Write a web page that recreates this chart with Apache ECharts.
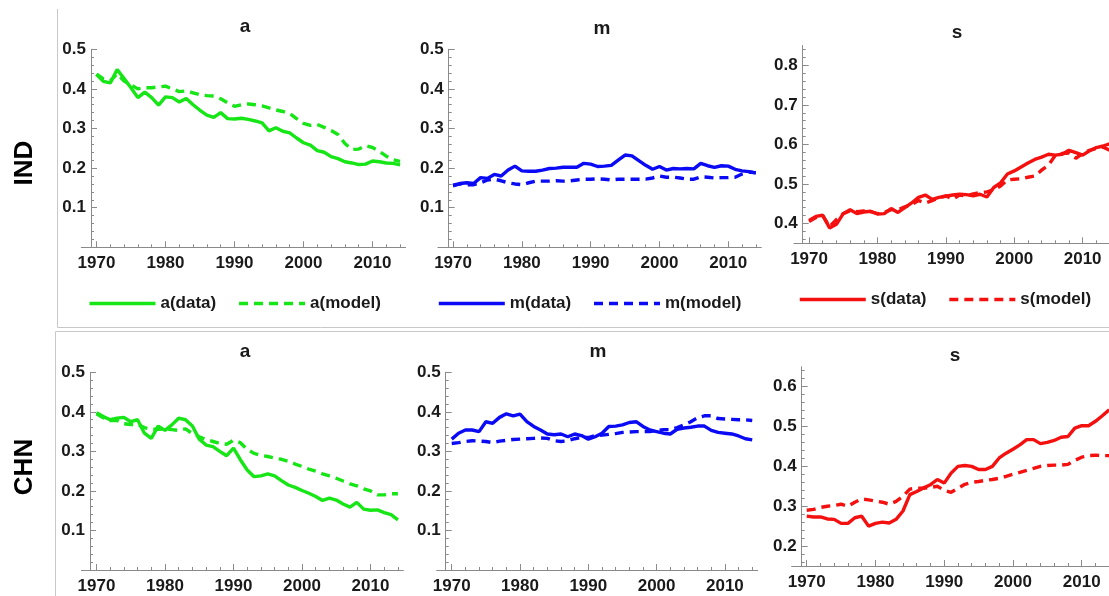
<!DOCTYPE html>
<html>
<head>
<meta charset="utf-8">
<script src="https://cdn.jsdelivr.net/npm/echarts@6/dist/echarts.min.js"></script>
<style>
html,body{margin:0;padding:0;background:#fff;}
#chart{width:1109px;height:596px;}
</style>
</head>
<body>
<div id="chart"></div>
<script>
// ---------------- data ----------------
const years = [1970,1971,1972,1973,1974,1975,1976,1977,1978,1979,
               1980,1981,1982,1983,1984,1985,1986,1987,1988,1989,
               1990,1991,1992,1993,1994,1995,1996,1997,1998,1999,
               2000,2001,2002,2003,2004,2005,2006,2007,2008,2009,
               2010,2011,2012,2013,2014];

const indAData  = [0.437,0.419,0.415,0.449,0.426,0.403,0.378,0.392,0.378,0.359,
                   0.380,0.378,0.367,0.376,0.360,0.346,0.334,0.328,0.340,0.325,
                   0.324,0.326,0.323,0.319,0.314,0.294,0.302,0.293,0.289,0.276,
                   0.264,0.258,0.244,0.240,0.229,0.224,0.216,0.213,0.209,0.210,
                   0.218,0.216,0.213,0.212,0.208];
const indAModel = [0.437,0.425,0.420,0.438,0.420,0.410,0.400,0.403,0.403,0.405,
                   0.407,0.400,0.393,0.395,0.390,0.385,0.383,0.382,0.375,0.365,
                   0.356,0.360,0.362,0.360,0.357,0.352,0.347,0.343,0.338,0.325,
                   0.313,0.308,0.310,0.303,0.295,0.285,0.262,0.247,0.248,0.257,
                   0.252,0.242,0.230,0.221,0.217];
const indMData  = [0.157,0.161,0.163,0.161,0.176,0.174,0.184,0.180,0.195,0.205,
                   0.193,0.192,0.192,0.195,0.199,0.200,0.202,0.202,0.202,0.212,
                   0.210,0.204,0.205,0.207,0.220,0.233,0.231,0.219,0.207,0.197,
                   0.204,0.195,0.199,0.198,0.199,0.198,0.212,0.206,0.202,0.206,
                   0.205,0.197,0.193,0.191,0.188];
const indMModel = [0.155,0.160,0.158,0.158,0.163,0.170,0.172,0.168,0.163,0.160,
                   0.158,0.163,0.167,0.167,0.167,0.168,0.167,0.168,0.170,0.172,
                   0.172,0.173,0.172,0.170,0.172,0.172,0.172,0.172,0.172,0.175,
                   0.180,0.177,0.177,0.175,0.172,0.172,0.178,0.177,0.175,0.176,
                   0.176,0.177,0.185,0.190,0.188];
const indSData  = [0.408,0.418,0.421,0.389,0.398,0.425,0.435,0.425,0.429,0.431,
                   0.424,0.425,0.438,0.428,0.440,0.452,0.466,0.472,0.461,0.466,
                   0.469,0.472,0.474,0.473,0.470,0.474,0.467,0.491,0.503,0.525,
                   0.533,0.543,0.553,0.562,0.568,0.575,0.573,0.575,0.585,0.579,
                   0.573,0.584,0.592,0.596,0.602];
const indSModel = [0.405,0.415,0.420,0.392,0.410,0.425,0.432,0.430,0.432,0.430,
                   0.425,0.428,0.435,0.435,0.442,0.448,0.458,0.452,0.458,0.465,
                   0.470,0.462,0.472,0.470,0.475,0.478,0.480,0.485,0.495,0.510,
                   0.512,0.513,0.517,0.520,0.535,0.548,0.572,0.577,0.578,0.565,
                   0.577,0.585,0.590,0.593,0.585];
const chnAData  = [0.398,0.388,0.380,0.384,0.386,0.375,0.380,0.346,0.333,0.364,
                   0.353,0.367,0.384,0.380,0.364,0.331,0.316,0.312,0.300,0.289,
                   0.308,0.279,0.253,0.236,0.238,0.243,0.238,0.226,0.215,0.209,
                   0.201,0.194,0.186,0.176,0.182,0.177,0.167,0.159,0.171,0.154,
                   0.151,0.152,0.145,0.140,0.127];
const chnAModel = [0.395,0.385,0.378,0.378,0.370,0.368,0.368,0.360,0.356,0.356,
                   0.357,0.355,0.353,0.357,0.345,0.337,0.330,0.325,0.320,0.318,
                   0.328,0.322,0.305,0.295,0.290,0.287,0.283,0.280,0.275,0.268,
                   0.262,0.255,0.250,0.243,0.238,0.232,0.225,0.218,0.213,0.205,
                   0.200,0.190,0.190,0.193,0.193];
const chnMData  = [0.331,0.346,0.354,0.354,0.350,0.375,0.371,0.386,0.395,0.390,
                   0.394,0.375,0.363,0.354,0.344,0.342,0.344,0.337,0.344,0.340,
                   0.331,0.337,0.346,0.363,0.364,0.367,0.373,0.375,0.363,0.354,
                   0.350,0.346,0.344,0.356,0.359,0.361,0.364,0.364,0.353,0.348,
                   0.346,0.344,0.339,0.332,0.329];
const chnMModel = [0.320,0.322,0.325,0.327,0.326,0.325,0.322,0.326,0.328,0.330,
                   0.331,0.332,0.333,0.334,0.333,0.327,0.325,0.327,0.332,0.335,
                   0.335,0.340,0.341,0.343,0.345,0.348,0.349,0.350,0.350,0.350,
                   0.353,0.355,0.355,0.360,0.367,0.375,0.385,0.390,0.390,0.383,
                   0.382,0.381,0.380,0.380,0.378];
const chnSData  = [0.275,0.273,0.273,0.268,0.267,0.257,0.257,0.271,0.275,0.250,
                   0.257,0.260,0.258,0.267,0.288,0.329,0.337,0.346,0.354,0.367,
                   0.358,0.383,0.400,0.402,0.400,0.392,0.392,0.400,0.421,0.433,
                   0.443,0.454,0.467,0.467,0.457,0.460,0.465,0.473,0.475,0.496,
                   0.502,0.502,0.513,0.527,0.542];
const chnSModel = [0.290,0.292,0.297,0.300,0.302,0.305,0.300,0.310,0.318,0.316,
                   0.313,0.310,0.305,0.312,0.325,0.343,0.345,0.345,0.347,0.350,
                   0.340,0.335,0.345,0.355,0.360,0.362,0.365,0.367,0.370,0.375,
                   0.380,0.385,0.390,0.395,0.400,0.402,0.403,0.403,0.405,0.415,
                   0.423,0.427,0.428,0.427,0.427];

// tick labels
const xTickLabels = [1970,1980,1990,2000,2010];
const yTicksLow   = [0.1,0.2,0.3,0.4,0.5];
const yTicksIndS  = [0.4,0.5,0.6,0.7,0.8];
const yTicksChnS  = [0.2,0.3,0.4,0.5,0.6];
const rowLabels   = ['IND','CHN'];
const panelTitles = ['a','m','s'];

// ---------------- layout / style ----------------
const GREEN = '#16e516', BLUE = '#0a0af5', RED = '#f51010';
const AXIS = '#8a8a8a';
const FONT = '"Liberation Sans", Arial, sans-serif';
const X_MIN = 1967.8, X_MAX = 2014.8;

function steps(a, b, st) { const out = []; for (let v = a; v <= b + 1e-9; v += st) out.push(+v.toFixed(4)); return out; }
const xMinor = steps(1972, 2014, 2);

const panels = [
  {grid:{left:81.3, top:49.3, width:324.3, height:198}, yOff:-9.7, ymin:0, ymax:0.5, yTicks:yTicksLow, data:indAData, model:indAModel, color:GREEN, key:'a'},
  {grid:{left:437.9, top:49.3, width:323.4, height:198}, yOff:-10.8, ymin:0, ymax:0.5, yTicks:yTicksLow, data:indMData, model:indMModel, color:BLUE, key:'m'},
  {grid:{left:794, top:45.5, width:321.5, height:197.8}, yOff:-8.7, ymin:0.35, ymax:0.85, yTicks:yTicksIndS, data:indSData, model:indSModel, color:RED, key:'s'},
  {grid:{left:81.4, top:372.3, width:322, height:197.7}, yOff:-8.6, ymin:0, ymax:0.5, yTicks:yTicksLow, data:chnAData, model:chnAModel, color:GREEN, key:'a'},
  {grid:{left:436.7, top:372.3, width:321, height:197.7}, yOff:-9, ymin:0, ymax:0.5, yTicks:yTicksLow, data:chnMData, model:chnMModel, color:BLUE, key:'m'},
  {grid:{left:791.6, top:366.7, width:323.1, height:199.3}, yOff:-10.1, ymin:0.15, ymax:0.65, yTicks:yTicksChnS, data:chnSData, model:chnSModel, color:RED, key:'s'}
];

const grids = [], xAxes = [], yAxes = [], series = [];
const labelStyle = {color:'#1a1a1a', fontWeight:'bold', fontSize:17, fontFamily:FONT};

panels.forEach((p, i) => {
  grids.push(Object.assign({outerBoundsMode:'none', containLabel:false}, p.grid));
  xAxes.push({
    type:'value', gridIndex:i, min:X_MIN, max:X_MAX, position:'bottom',
    axisLine:{show:true, onZero:false, lineStyle:{color:AXIS, width:1}},
    axisTick:{show:true, inside:true, length:6, customValues:xTickLabels, lineStyle:{color:AXIS}},
    axisLabel:{show:true, customValues:xTickLabels, margin:8, formatter:v => String(v), ...labelStyle},
    splitLine:{show:false}
  });
  xAxes.push({
    type:'value', gridIndex:i, min:X_MIN, max:X_MAX, position:'bottom',
    axisLine:{show:false, onZero:false},
    axisTick:{show:true, inside:true, length:3, customValues:xMinor, lineStyle:{color:AXIS}},
    axisLabel:{show:false}, splitLine:{show:false}
  });
  const yMinor = steps(p.ymin + 0.02 - ((p.ymin * 100) % 2) / 100, p.ymax, 0.02);
  yAxes.push({
    type:'value', gridIndex:i, min:p.ymin, max:p.ymax, position:'left', offset:p.yOff,
    axisLine:{show:true, onZero:false, lineStyle:{color:AXIS, width:1}},
    axisTick:{show:true, inside:true, length:6, customValues:p.yTicks, lineStyle:{color:AXIS}},
    axisLabel:{show:true, customValues:p.yTicks, margin:5, formatter:v => v.toFixed(1), ...labelStyle},
    splitLine:{show:false}
  });
  yAxes.push({
    type:'value', gridIndex:i, min:p.ymin, max:p.ymax, position:'left', offset:p.yOff,
    axisLine:{show:false, onZero:false},
    axisTick:{show:true, inside:true, length:3, customValues:yMinor, lineStyle:{color:AXIS}},
    axisLabel:{show:false}, splitLine:{show:false}
  });
  series.push({
    type:'line', name:p.key + '(data)', xAxisIndex:2*i, yAxisIndex:2*i,
    data:years.map((y, k) => [y, p.data[k]]), showSymbol:false, symbol:'none',
    lineStyle:{color:p.color, width:3.4}, itemStyle:{color:p.color}, silent:true, animation:false, z:2
  });
  series.push({
    type:'line', name:p.key + '(model)', xAxisIndex:2*i, yAxisIndex:2*i,
    data:years.map((y, k) => [y, p.model[k]]), showSymbol:false, symbol:'none',
    lineStyle:{color:p.color, width:3.4, type:[9,6]}, itemStyle:{color:p.color}, silent:true, animation:false, z:3
  });
});

const legendText = {color:'#1a1a1a', fontWeight:'bold', fontSize:17, fontFamily:FONT};
const legends = [
  {left:87.7, top:295, data:['a(data)','a(model)']},
  {left:437, top:295, data:['m(data)','m(model)']},
  {left:798, top:291, data:['s(data)','s(model)']}
].map(l => Object.assign({
  orient:'horizontal', padding:0, itemWidth:66, itemHeight:14, itemGap:21,
  selectedMode:false, textStyle:legendText,
  itemStyle:{opacity:0}, lineStyle:{width:3.6}
}, l));

const titleFont = 'bold 19px ' + FONT;
const titlePos = [[245,27],[602,29],[957,33],[245,352],[598,352],[955,356]];
const graphics = [];
titlePos.forEach((pos, i) => {
  graphics.push({type:'text', x:pos[0], y:pos[1], silent:true,
    style:{text:panelTitles[i % 3], font:titleFont, fill:'#1a1a1a', align:'center', verticalAlign:'middle'}});
});
[[25,163],[25,467]].forEach((pos, i) => {
  graphics.push({type:'text', x:pos[0], y:pos[1], rotation:Math.PI/2, silent:true,
    style:{text:rowLabels[i], font:'bold 26px ' + FONT, fill:'#000', align:'center', verticalAlign:'middle'}});
});
const frame = {stroke:'#c8c8c8', lineWidth:1};
graphics.push({type:'polyline', silent:true, shape:{points:[[57.5,9],[57.5,327.5],[1109,327.5]]}, style:frame});
graphics.push({type:'polyline', silent:true, shape:{points:[[1109,331.5],[55.5,331.5],[55.5,596]]}, style:frame});

const chart = echarts.init(document.getElementById('chart'), null, {renderer:'canvas'});
chart.setOption({
  backgroundColor:'#ffffff',
  animation:false,
  grid:grids, xAxis:xAxes, yAxis:yAxes, series:series,
  legend:legends,
  graphic:graphics
});
</script>
</body>
</html>
